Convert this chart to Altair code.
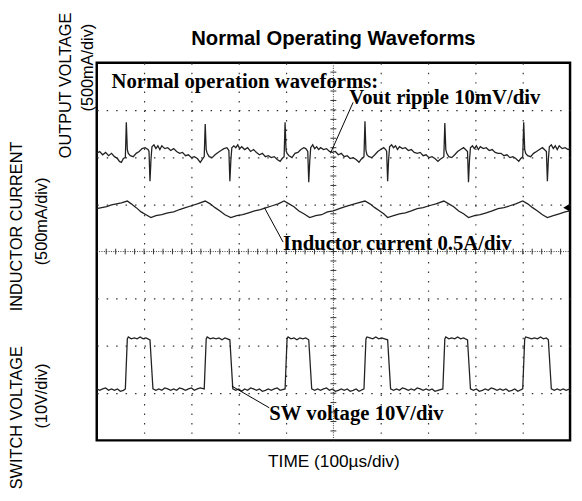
import altair as alt
import pandas as pd

# ---------------- waveform samples ----------------
# x: sample index (48 samples per division, 480 across the screen)
# y: screen position in divisions (0 = bottom graticule line, 8 = top)

vout_n = ([0, 3, 6, 9, 12, 15, 18, 21, 23, 25, 27, 29]
          + [30, 31, 32, 34, 37, 40, 43, 46, 49, 52, 53, 54, 55, 56, 58, 60, 62, 64, 66, 69, 72, 75, 78, 81, 84, 87, 90, 93, 96, 99, 102, 105, 107, 109]
          + [110, 111, 112, 114, 117, 120, 123, 126, 129, 132, 134, 135, 136, 137, 139, 141, 143, 145, 147, 150, 153, 156, 159, 162, 165, 168, 171, 174, 177, 180, 183, 186, 188, 190]
          + [191, 192, 193, 195, 198, 201, 204, 207, 210, 212, 214, 215, 216, 217, 219, 221, 223, 225, 227, 230, 233, 236, 239, 242, 245, 248, 251, 254, 257, 260, 263, 266, 268, 271]
          + [272, 273, 274, 276, 279, 282, 285, 288, 291, 293, 294, 295, 296, 297, 299, 301, 303, 305, 307, 310, 313, 316, 319, 322, 325, 328, 331, 334, 337, 340, 343, 346, 348, 351, 352]
          + [353, 354, 355, 357, 360, 363, 366, 369, 372, 374, 376, 377, 378, 379, 381, 383, 385, 387, 389, 392, 395, 398, 401, 404, 407, 410, 413, 416, 419, 422, 425, 428, 430, 432]
          + [433, 434, 435, 437, 440, 443, 446, 449, 452, 454, 456, 457, 458, 459, 461, 463, 465, 467, 469, 472, 475, 478, 480])
vout_y = ([6.08, 6.12, 6.05, 6.10, 6.03, 6.08, 6.01, 5.97, 5.91, 5.89, 5.97, 5.99]
          + [6.74, 6.16, 6.08, 6.03, 6.01, 6.08, 6.12, 6.18, 6.20, 6.16, 6.12, 5.49, 5.95, 6.22, 6.26, 6.18, 6.24, 6.16, 6.24, 6.18, 6.20, 6.14, 6.18, 6.12, 6.08, 6.10, 6.03, 6.05, 5.99, 6.01, 5.97, 5.89, 5.95, 6.01]
          + [6.70, 6.16, 6.08, 6.01, 5.99, 6.05, 6.10, 6.14, 6.18, 6.20, 6.14, 5.49, 5.93, 6.20, 6.24, 6.20, 6.26, 6.18, 6.22, 6.16, 6.20, 6.12, 6.16, 6.10, 6.05, 6.08, 6.01, 6.03, 5.99, 6.01, 5.95, 5.91, 5.97, 6.01]
          + [6.74, 6.14, 6.08, 6.03, 5.99, 6.08, 6.10, 6.16, 6.20, 6.18, 6.12, 5.47, 5.91, 6.20, 6.26, 6.18, 6.22, 6.16, 6.20, 6.16, 6.18, 6.12, 6.10, 6.12, 6.05, 6.08, 6.01, 6.03, 5.97, 5.99, 5.95, 5.89, 5.95, 6.01]
          + [6.76, 6.14, 6.05, 6.01, 5.99, 6.05, 6.12, 6.16, 6.20, 6.16, 6.12, 5.49, 5.95, 6.22, 6.26, 6.20, 6.24, 6.16, 6.22, 6.18, 6.20, 6.14, 6.16, 6.10, 6.08, 6.10, 6.03, 6.05, 5.99, 6.01, 5.97, 5.91, 5.95, 5.99, 6.01]
          + [6.72, 6.16, 6.08, 6.01, 5.99, 6.05, 6.12, 6.16, 6.20, 6.16, 6.12, 5.47, 5.93, 6.20, 6.24, 6.18, 6.24, 6.16, 6.22, 6.18, 6.20, 6.14, 6.16, 6.10, 6.08, 6.08, 6.03, 6.05, 5.99, 6.01, 5.97, 5.91, 5.97, 6.01]
          + [6.74, 6.16, 6.08, 6.03, 6.01, 6.08, 6.12, 6.16, 6.20, 6.16, 6.12, 5.49, 5.95, 6.22, 6.26, 6.18, 6.24, 6.16, 6.24, 6.18, 6.20, 6.16, 6.18])

il_n = [0, 5, 10, 15, 20, 25, 31, 35, 40, 45, 50, 55, 60, 66, 72, 78, 84, 90, 96, 102,
        110, 115, 120, 125, 130, 136, 142, 148, 154, 160, 166, 172, 178, 184,
        190, 195, 200, 205, 210, 216, 222, 228, 234, 240, 246, 252, 258, 265,
        272, 277, 282, 287, 291, 295, 301, 307, 313, 319, 325, 331, 337, 344,
        352, 357, 362, 367, 372, 377, 383, 389, 395, 401, 407, 413, 419, 425,
        432, 437, 442, 447, 452, 457, 463, 469, 475, 480]
il_y = [4.91, 4.93, 4.95, 4.99, 5.01, 5.03, 5.07, 5.01, 4.93, 4.84, 4.78, 4.72, 4.76, 4.78, 4.82, 4.84, 4.89, 4.93, 4.97, 5.01,
        5.07, 5.01, 4.93, 4.86, 4.78, 4.72, 4.76, 4.78, 4.82, 4.86, 4.89, 4.93, 4.97, 5.01,
        5.07, 5.01, 4.95, 4.86, 4.80, 4.72, 4.76, 4.78, 4.84, 4.86, 4.91, 4.95, 4.99, 5.03,
        5.07, 5.01, 4.93, 4.86, 4.80, 4.72, 4.76, 4.80, 4.82, 4.86, 4.91, 4.93, 4.97, 5.01,
        5.07, 5.01, 4.95, 4.86, 4.80, 4.72, 4.76, 4.78, 4.82, 4.86, 4.91, 4.93, 4.97, 5.01,
        5.07, 5.01, 4.93, 4.86, 4.78, 4.72, 4.76, 4.80, 4.84, 4.86]

sw_n = ([0, 3, 6, 9, 12, 15, 18, 21, 24, 27, 29]
        + [31, 32, 35, 38, 41, 44, 47, 50, 54]
        + [57, 60, 63, 66, 69, 72, 75, 78, 81, 84, 87, 90, 93, 96, 99, 102, 105, 109]
        + [111, 112, 115, 118, 121, 124, 127, 130, 135]
        + [138, 141, 144, 147, 150, 153, 156, 159, 162, 165, 168, 171, 174, 177, 180, 183, 186, 191]
        + [193, 194, 197, 200, 203, 206, 209, 212, 215]
        + [218, 221, 224, 227, 230, 233, 236, 239, 242, 245, 248, 251, 254, 257, 260, 263, 266, 271]
        + [273, 274, 277, 280, 283, 286, 289, 292, 295]
        + [298, 301, 304, 307, 310, 313, 316, 319, 322, 325, 328, 331, 334, 337, 340, 343, 346, 351]
        + [353, 354, 357, 360, 363, 366, 369, 372, 376]
        + [379, 382, 385, 388, 391, 394, 397, 400, 403, 406, 409, 412, 415, 418, 421, 424, 427, 432]
        + [434, 435, 438, 441, 444, 447, 450, 453, 456, 458]
        + [461, 464, 467, 470, 473, 476, 480])
sw_y = ([1.09, 1.06, 1.09, 1.11, 1.06, 1.09, 1.06, 1.09, 1.04, 1.06, 1.09]
        + [2.15, 2.19, 2.15, 2.17, 2.15, 2.19, 2.15, 2.17, 2.13]
        + [1.09, 1.06, 1.09, 1.06, 1.11, 1.09, 1.06, 1.09, 1.06, 1.11, 1.09, 1.06, 1.09, 1.11, 1.06, 1.09, 1.11, 1.09]
        + [2.15, 2.19, 2.15, 2.17, 2.15, 2.17, 2.13, 2.17, 2.13]
        + [1.09, 1.06, 1.09, 1.04, 1.09, 1.06, 1.11, 1.09, 1.06, 1.09, 1.04, 1.06, 1.09, 1.06, 1.09, 1.11, 1.06, 1.09]
        + [2.15, 2.19, 2.15, 2.17, 2.13, 2.17, 2.15, 2.17, 2.13]
        + [1.09, 1.06, 1.09, 1.06, 1.09, 1.11, 1.06, 1.09, 1.04, 1.06, 1.09, 1.06, 1.09, 1.04, 1.06, 1.09, 1.04, 1.09]
        + [2.15, 2.19, 2.17, 2.15, 2.19, 2.15, 2.17, 2.15, 2.13]
        + [1.09, 1.06, 1.09, 1.06, 1.11, 1.09, 1.06, 1.09, 1.06, 1.11, 1.09, 1.06, 1.09, 1.06, 1.09, 1.04, 1.06, 1.09]
        + [2.15, 2.19, 2.15, 2.17, 2.15, 2.19, 2.15, 2.17, 2.13]
        + [1.09, 1.06, 1.09, 1.04, 1.06, 1.09, 1.06, 1.11, 1.09, 1.06, 1.09, 1.06, 1.09, 1.04, 1.06, 1.09, 1.04, 1.09]
        + [2.15, 2.19, 2.17, 2.15, 2.17, 2.15, 2.19, 2.15, 2.17, 2.13]
        + [1.09, 1.06, 1.09, 1.06, 1.09, 1.06, 1.09])

# on-screen annotations (scope labels) and their leader lines
note_text = ["Normal operation waveforms:", "Vout ripple 10mV/div",
             "Inductor current 0.5A/div", "SW voltage 10V/div"]
note_n = [15, 256, 189, 175]
note_y = [7.47, 7.12, 4.03, 0.44]
lead_n = [260, 170, 137]
lead_y = [7.16, 4.93, 1.15]
lead_n2 = [237, 189, 175]
lead_y2 = [6.08, 4.20, 0.69]

# ---------------- chart ----------------
traces = pd.DataFrame({
    "sample": vout_n + il_n + sw_n,
    "div": vout_y + il_y + sw_y,
    "trace": ["vout"] * len(vout_n) + ["il"] * len(il_n) + ["sw"] * len(sw_n),
})
notes = pd.DataFrame({"sample": note_n, "div": note_y, "label": note_text})
leads = pd.DataFrame({"sample": lead_n, "div": lead_y, "sample2": lead_n2, "div2": lead_y2})
marker = pd.DataFrame({"sample": [476], "div": [4.93]})

hticks = pd.DataFrame({"sample": [round(9.6 * k, 1) for k in range(1, 50)]})
hticks["div"] = 3.94
hticks["div2"] = 4.06
vticks = pd.DataFrame({"div": [round(0.2 * k, 1) for k in range(1, 40)]})
vticks["sample"] = 237
vticks["sample2"] = 243
hcenter = pd.DataFrame({"sample": [0], "sample2": [480], "div": [4]})
vcenter = pd.DataFrame({"sample": [240], "div": [0], "div2": [8]})

xs = alt.Scale(domain=[0, 480], nice=False, zero=False)
ys = alt.Scale(domain=[0, 8], nice=False, zero=False)
xaxis = alt.Axis(title="TIME (100µs/div)", values=[48, 96, 144, 192, 288, 336, 384, 432],
                 grid=True, labels=False, ticks=False, domain=False,
                 gridDash=[1.5, 8.1], gridColor="#333333", gridWidth=1.2,
                 titleFont="Liberation Sans", titleFontSize=17.5, titleFontWeight="normal",
                 titleColor="black", titlePadding=13)
yaxis = alt.Axis(title=None, values=[1, 2, 3, 5, 6, 7], grid=True, labels=False, ticks=False,
                 domain=False, gridDash=[1.5, 8.08], gridColor="#333333", gridWidth=1.2)


def X(f):
    return alt.X(f, type="quantitative", scale=xs, axis=xaxis)


def Y(f):
    return alt.Y(f, type="quantitative", scale=ys, axis=yaxis)


layers = [
    alt.Chart(hcenter).mark_rule(color="#333333", strokeWidth=1, strokeDash=[1, 1.4]).encode(
        x=X("sample"), x2="sample2", y=Y("div")),
    alt.Chart(vcenter).mark_rule(color="#333333", strokeWidth=1, strokeDash=[1, 1.4]).encode(
        x=X("sample"), y=Y("div"), y2="div2"),
    alt.Chart(hticks).mark_rule(color="#333333", strokeWidth=1).encode(
        x=X("sample"), y=Y("div"), y2="div2"),
    alt.Chart(vticks).mark_rule(color="#333333", strokeWidth=1).encode(
        x=X("sample"), x2="sample2", y=Y("div")),
    alt.Chart(traces).mark_line(color="#222222", strokeWidth=1.3).encode(
        x=X("sample"), y=Y("div"), detail="trace:N", order="sample:Q"),
    alt.Chart(leads).mark_rule(color="black", strokeWidth=1).encode(
        x=X("sample"), y=Y("div"), x2="sample2", y2="div2"),
    alt.Chart(notes).mark_text(font="Liberation Serif", fontWeight="bold", fontSize=21,
                               align="left", baseline="alphabetic", color="black").encode(
        x=X("sample"), y=Y("div"), text="label:N"),
    alt.Chart(marker).mark_point(shape="triangle-left", filled=True, size=45,
                                 color="black", opacity=1).encode(x=X("sample"), y=Y("div")),
]

# chart title and rotated channel labels, placed relative to the plot area
outer_labels = [
    ("Normal Operating Waveforms", 240, -18, 0, 20.5, "bold"),
    ("SWITCH VOLTAGE", -81, 360, 270, 16.5, "normal"),
    ("(10V/div)", -55, 338, 270, 16.5, "normal"),
    ("INDUCTOR CURRENT", -81, 166, 270, 16.5, "normal"),
    ("(500mA/div)", -55, 161, 270, 16.5, "normal"),
    ("OUTPUT VOLTAGE", -31, 23, 270, 16.5, "normal"),
    ("(500mA/div)", -9, 5, 270, 16.5, "normal"),
]
for txt, px, py, ang, fs, fw in outer_labels:
    layers.append(
        alt.Chart(pd.DataFrame({"t": [txt]})).mark_text(
            angle=ang, align="center", baseline="alphabetic" if ang == 0 else "middle",
            font="Liberation Sans", fontSize=fs, fontWeight=fw, color="black").encode(
            x=alt.value(px), y=alt.value(py), text="t:N"))

chart = alt.layer(*layers).properties(
    width=480, height=383,
    autosize=alt.AutoSizeParams(type="none"),
    padding={"left": 90, "top": 52, "right": 4, "bottom": 58},
    background="white",
).configure_view(stroke="black", strokeWidth=2.5)

chart.save("out.html", embed_options={"renderer": "svg", "actions": False})
